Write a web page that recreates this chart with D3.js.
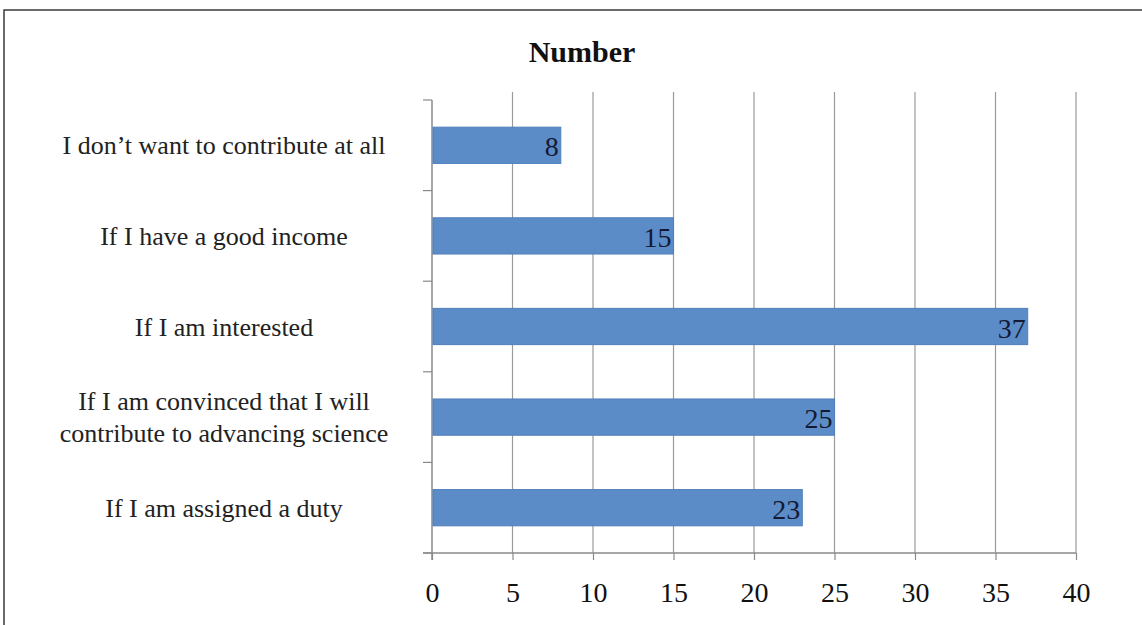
<!DOCTYPE html>
<html>
<head>
<meta charset="utf-8">
<script src="https://cdn.jsdelivr.net/npm/d3@7"></script>
<style>
  body { margin: 0; background: #fff; }
  svg { display: block; }
</style>
</head>
<body>
<div id="chart"></div>
<script>
// Chart data
const categories = [
    "I don’t want to contribute at all",
    "If I have a good income",
    "If I am interested",
    "If I am convinced that I will|contribute to advancing science",
    "If I am assigned a duty"
];
const values = [8, 15, 37, 25, 23];
const xTicks = [0, 5, 10, 15, 20, 25, 30, 35, 40];
const chartTitle = "Number";

const W = 1142, H = 625;
const plot = { left: 432, right: 1076, top: 100, bottom: 553 };

const svg = d3.select("#chart")
    .append("svg")
    .attr("width", W)
    .attr("height", H);

svg.append("rect").attr("width", W).attr("height", H).attr("fill", "#fff");

// outer frame (top and left edges visible)
svg.append("path")
    .attr("d", `M4,${H} V10 H${W}`)
    .attr("fill", "none")
    .attr("stroke", "#3a3a3a")
    .attr("stroke-width", 1.5);

// Scales
const x = d3.scaleLinear()
    .domain([0, 40])
    .range([plot.left, plot.right]);

const y = d3.scaleBand()
    .domain(categories)
    .range([plot.top, plot.bottom])
    .paddingInner(0.6)
    .paddingOuter(0.3);

// Vertical gridlines
svg.append("g")
    .selectAll("line")
    .data(xTicks.filter(d => d > 0))
    .enter().append("line")
    .attr("x1", d => x(d)).attr("x2", d => x(d))
    .attr("y1", plot.top - 8).attr("y2", plot.bottom)
    .attr("stroke", "#9a9a9a")
    .attr("stroke-width", 1.2);

// X axis
const xAxis = svg.append("g")
    .attr("transform", `translate(0,${plot.bottom})`)
    .call(d3.axisBottom(x)
        .tickValues(xTicks)
        .tickSize(7)
        .tickSizeOuter(0));
xAxis.select(".domain").remove();
xAxis.selectAll(".tick line").attr("stroke", "#8a8a8a").attr("stroke-width", 1.2);
xAxis.selectAll(".tick text")
    .attr("y", 49)
    .attr("dy", 0)
    .style("font-family", "'Liberation Serif', 'Times New Roman', serif")
    .style("font-size", "28px")
    .attr("fill", "#111");

svg.append("line")
    .attr("x1", plot.left - 9).attr("x2", plot.right)
    .attr("y1", plot.bottom).attr("y2", plot.bottom)
    .attr("stroke", "#8a8a8a")
    .attr("stroke-width", 1.5);

// Y axis line and ticks at category boundaries
const step = y.step();
const boundaries = d3.range(categories.length + 1).map(i => plot.top + i * step);
svg.append("line")
    .attr("x1", plot.left).attr("x2", plot.left)
    .attr("y1", plot.top).attr("y2", plot.bottom + 7)
    .attr("stroke", "#8a8a8a")
    .attr("stroke-width", 1.5);
svg.append("g")
    .selectAll("line")
    .data(boundaries)
    .enter().append("line")
    .attr("x1", plot.left - 9).attr("x2", plot.left)
    .attr("y1", d => d).attr("y2", d => d)
    .attr("stroke", "#8a8a8a")
    .attr("stroke-width", 1.2);

// Bars
svg.append("g")
    .selectAll("rect")
    .data(values)
    .enter().append("rect")
    .attr("x", x(0) + 1)
    .attr("y", (d, i) => y(categories[i]))
    .attr("width", d => x(d) - x(0) - 1)
    .attr("height", y.bandwidth())
    .attr("fill", "#5b8cc7")
    .attr("stroke", "#4f7fbb")
    .attr("stroke-width", 1);

// Value labels
svg.append("g")
    .selectAll("text")
    .data(values)
    .enter().append("text")
    .attr("x", d => x(d) - 2)
    .attr("y", (d, i) => y(categories[i]) + y.bandwidth() / 2 + 11)
    .attr("text-anchor", "end")
    .style("font-family", "'Liberation Serif', 'Times New Roman', serif")
    .style("font-size", "28px")
    .attr("fill", "#141a33")
    .text(d => d);

// Category labels
const catLabels = svg.append("g")
    .selectAll("text")
    .data(categories)
    .enter().append("text")
    .attr("x", 224)
    .attr("text-anchor", "middle")
    .style("font-family", "'Liberation Serif', 'Times New Roman', serif")
    .style("font-size", "26px")
    .attr("fill", "#222");

catLabels.each(function(d) {
    const lines = d.split("|");
    const cy = y(d) + y.bandwidth() / 2;
    const lh = 32;
    const t = d3.select(this);
    lines.forEach((line, j) => {
        t.append("tspan")
            .attr("x", 224)
            .attr("y", cy + 9 + (j - (lines.length - 1) / 2) * lh)
            .text(line);
    });
});

// Title
svg.append("text")
    .attr("x", 582)
    .attr("y", 62)
    .attr("text-anchor", "middle")
    .style("font-family", "'Liberation Serif', 'Times New Roman', serif")
    .style("font-size", "30px")
    .style("font-weight", "bold")
    .attr("fill", "#111")
    .text(chartTitle);
</script>
</body>
</html>
